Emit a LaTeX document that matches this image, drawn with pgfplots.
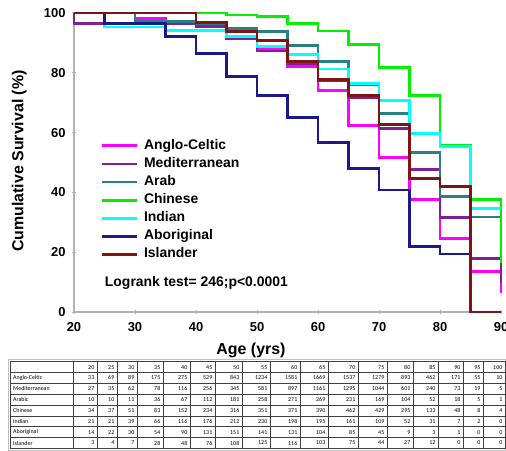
\documentclass[border=0pt]{standalone}
\usepackage{fontspec}
\setmainfont{Liberation Sans}
\newfontfamily\tabfont{Carlito}
\usepackage{pgfplots}
\pgfplotsset{compat=1.18}

\definecolor{cAnglo}{RGB}{255,0,255}
\definecolor{cMed}{RGB}{128,32,150}
\definecolor{cArab}{RGB}{40,128,128}
\definecolor{cChin}{RGB}{0,240,0}
\definecolor{cInd}{RGB}{0,255,255}
\definecolor{cAbor}{RGB}{25,25,140}
\definecolor{cIsl}{RGB}{128,20,20}

% right edges of the number columns of the table
\def\colR{{97,117,137,163,190,215,242,270,300,328,358,387,413,438,463,483,505}}
\newcommand\tabrow[3]{%
  \pgfmathsetmacro\yc{-(361.5+10.85*#1+5.6)}%
  \node[anchor=west, inner sep=0] at (13,\yc) {#2};%
  \foreach \v [count=\i] in {#3} {%
    \pgfmathsetmacro\xr{\colR[\i-1]-2.5}%
    \node[anchor=east, inner sep=0] at (\xr,\yc) {\v};%
  }%
}

\begin{document}
\begin{tikzpicture}[x=1bp,y=1bp]
\path[use as bounding box] (0,0) rectangle (506,-451);
\begin{axis}[
  at={(74bp,-312bp)}, anchor=south west,
  scale only axis, width=427bp, height=299bp,
  xmin=20, xmax=90, ymin=0, ymax=100,
  axis lines=left,
  axis line style={draw=gray!60, line width=1.4bp, -},
  xtick={20,30,...,90}, ytick={0,20,...,100},
  tick style={draw=gray!60, line width=1bp},
  major tick length=4bp, tick align=center,
  ticklabel style={font=\bfseries\fontsize{13}{15}\selectfont},
  /pgf/number format/assume math mode=true,
  xticklabel style={yshift=-5bp},
  yticklabel style={xshift=-3bp},
  xlabel={Age (yrs)}, ylabel={Cumulative Survival (\%)},
  xlabel style={at={(axis description cs:0.4145,-0.127)}, anchor=center,
    font=\bfseries\fontsize{16}{18}\selectfont},
  ylabel style={at={(axis description cs:-0.128,0.505)}, anchor=center,
    font=\bfseries\fontsize{16}{18}\selectfont},
  clip=false,
  const plot,
  every axis plot/.append style={line width=2.8bp},
  legend cell align=left,
  legend image code/.code={\draw[#1, line width=2.8bp] (0bp,0bp) -- (35bp,0bp);},
  legend style={at={(axis description cs:0.0609,0.578)}, anchor=north west,
    draw=none, fill=none, inner sep=0pt, row sep=5.1bp,
    font=\bfseries\fontsize{14}{16}\selectfont,
    nodes={inner sep=0pt, text height=10bp, text depth=3bp},
    /tikz/every odd column/.append style={column sep=6bp}},
]
\addplot[cAnglo] coordinates {(20,100)(30,98.2)(35,96.5)(40,96.3)(45,94.0)(50,88.2)(55,82.0)(60,74.2)(65,62.5)(70,51.8)(75,37.5)(80,24.5)(85,13.5)(90,13.5)(90,6.2)};
\addlegendentry{Anglo-Celtic}
\addplot[cMed] coordinates {(20,100)(20,96.5)(40,95.6)(45,91.5)(50,87.3)(55,83.0)(60,77.3)(65,71.7)(70,61.4)(75,47.7)(80,31.5)(85,18.0)(90,18.0)(90,9.6)};
\addlegendentry{Mediterranean}
\addplot[cArab] coordinates {(20,100)(30,97.1)(40,96.5)(45,94.9)(50,93.8)(55,89.2)(60,83.9)(65,75.9)(70,66.5)(75,53.3)(80,38.7)(85,31.8)(90,31.8)};
\addlegendentry{Arab}
\addplot[cChin] coordinates {(20,100)(45,99.3)(50,98.9)(55,96.5)(60,94.0)(65,89.5)(70,81.7)(75,72.4)(80,55.6)(85,37.7)(90,37.7)(90,16.3)};
\addlegendentry{Chinese}
\addplot[cInd] coordinates {(20,100)(25,95.3)(35,94.1)(45,92.1)(50,88.7)(55,86.0)(60,81.3)(65,76.3)(70,70.8)(75,59.8)(80,55.3)(85,34.5)(90,34.5)};
\addlegendentry{Indian}
\addplot[cAbor] coordinates {(20,100)(25,96.5)(35,92.1)(40,86.5)(45,78.7)(50,72.4)(55,65.1)(60,56.6)(65,48.1)(70,40.8)(75,22.0)(80,19.4)(85,19.4)};
\addlegendentry{Aboriginal}
\addplot[cIsl] coordinates {(20,100)(40,96.9)(45,93.8)(50,90.7)(55,83.7)(60,77.8)(65,72.4)(70,62.8)(75,44.7)(80,41.9)(85,0)(90,0)};
\addlegendentry{Islander}
\node[anchor=west, inner sep=0pt, font=\bfseries\fontsize{14}{16}\selectfont]
  at (axis description cs:0.072,0.097) {Logrank test= 246;p<0.0001};
\end{axis}

% numbers at risk
\draw[gray!50, line width=0.8bp] (8.5,-359.8) rectangle (505.5,-450);
\draw[black!75, line width=0.5bp] (10,-361.5) rectangle (505,-448.3);
\foreach \k in {1,...,7} \draw[black!75, line width=0.5bp] (10,{-361.5-10.85*\k}) -- (505,{-361.5-10.85*\k});
\foreach \x in {73,97,117,137,163,190,215,242,270,300,328,358,387,413,438,463,483}
  \draw[black!75, line width=0.5bp] (\x,-361.5) -- (\x,-448.3);
\begin{scope}[every node/.style={font=\tabfont\fontsize{6}{7}\selectfont}]
\tabrow{0}{}{20,25,30,35,40,45,50,55,60,65,70,75,80,85,90,95,100}
\tabrow{1}{Anglo-Celtic}{33,69,89,175,275,529,843,1234,1581,1669,1537,1279,893,462,171,55,10}
\tabrow{2}{Mediterranean}{27,35,62,78,116,256,345,581,897,1161,1295,1044,601,240,73,19,5}
\tabrow{3}{Arabic}{10,10,11,36,67,112,181,258,271,269,231,169,104,52,18,5,1}
\tabrow{4}{Chinese}{34,37,51,83,152,234,316,351,371,390,462,429,295,133,48,8,4}
\tabrow{5}{Indian}{21,21,39,66,116,176,212,230,198,195,161,109,52,31,7,2,0}
\tabrow{6}{Aboriginal}{14,22,30,54,90,131,151,141,131,104,85,45,9,3,1,0,0}
\tabrow{7}{Islander}{3,4,7,28,48,76,108,125,116,103,75,44,27,12,0,0,0}
\end{scope}
\end{tikzpicture}
\end{document}
